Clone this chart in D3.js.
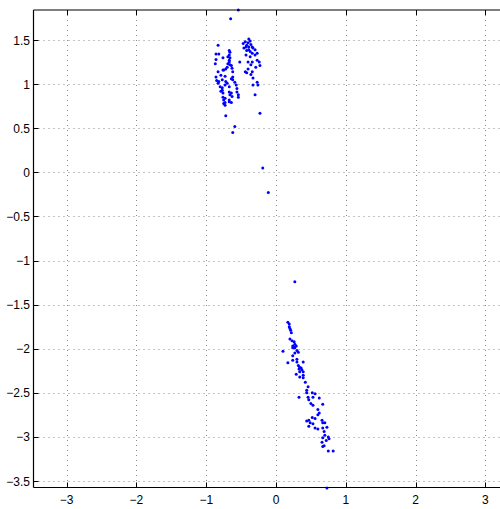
<!DOCTYPE html>
<html>
<head>
<meta charset="utf-8">
<script src="https://d3js.org/d3.v7.min.js"></script>
<style>
  body { margin: 0; background: #fff; }
  text { font-family: "Liberation Sans", Arial, sans-serif; font-size: 12px; fill: #000; }
</style>
</head>
<body>
<script>
// tick values
const xTicks = [-3, -2, -1, 0, 1, 2, 3];
const yTicks = [-3.5, -3, -2.5, -2, -1.5, -1, -0.5, 0, 0.5, 1, 1.5];

// upper-left group
const xsA = [-0.83, -0.86, -0.82, -0.86, -0.87, -0.83, -0.67, -0.67, -0.66, -0.67, -0.69, -0.70, -0.64, -0.76, -0.72, -0.76,
  -0.63, -0.62, -0.79, -0.73, -0.62, -0.77, -0.85, -0.83, -0.80, -0.62, -0.59, -0.57, -0.56, -0.56, -0.54, -0.54,
  -0.70, -0.73, -0.67, -0.77, -0.76, -0.76, -0.75, -0.75, -0.73, -0.67, -0.66, -0.67, -0.64, -0.72, -0.59, -0.62,
  -0.67, -0.66, -0.75, -0.64, -0.63, -0.79, -0.77, -0.52, -0.82, -0.72, -0.64, -0.86, -0.73, -0.73, -0.67, -0.69, -0.66];
const ysA = [1.44, 1.34, 1.34, 1.28, 1.23, 1.14, 1.38, 1.33, 1.30, 1.25, 1.23, 1.19, 1.21, 1.30, 1.17, 1.16,
  1.18, 1.14, 1.10, 1.09, 1.08, 1.05, 1.04, 1.01, 0.97, 1.05, 1.02, 0.99, 0.95, 0.91, 0.88, 0.85,
  1.01, 0.99, 0.97, 0.93, 0.90, 0.85, 0.82, 0.78, 0.76, 0.91, 0.88, 0.82, 0.79, 0.64, 0.52, 0.45,
  1.27, 1.22, 1.16, 0.90, 0.86, 0.92, 0.96, 1.25, 1.03, 1.03, 1.06, 1.08, 0.79, 0.84, 0.80, 1.31, 1.36];

// upper-right group
const xsB = [-0.44, -0.37, -0.42, -0.34, -0.33, -0.30, -0.39, -0.43, -0.37, -0.30, -0.27, -0.40, -0.34, -0.36, -0.27, -0.24,
  -0.40, -0.34, -0.42, -0.29, -0.23, -0.33, -0.33, -0.27, -0.26, -0.30, -0.23, -0.47, -0.40, -0.36, -0.43, -0.46,
  -0.39, -0.42, -0.34, -0.37, -0.39, -0.44, -0.36];
const ysB = [1.48, 1.49, 1.44, 1.42, 1.41, 1.39, 1.39, 1.33, 1.31, 1.33, 1.35, 1.25, 1.25, 1.22, 1.27, 1.25,
  1.17, 1.14, 1.13, 1.19, 1.21, 1.07, 0.99, 1.02, 0.99, 0.88, 0.67, 1.46, 1.47, 1.45, 1.42, 1.41,
  1.42, 1.38, 1.35, 1.37, 1.51, 1.14, 1.11];

// isolated points
const xsC = [-0.54, -0.65, -0.19, -0.11, 0.27];
const ysC = [1.84, 1.74, 0.05, -0.23, -1.24];

// lower group
const xsD = [0.17, 0.19, 0.20, 0.21, 0.20, 0.23, 0.26, 0.24, 0.26, 0.29, 0.27, 0.24, 0.30, 0.10, 0.27, 0.24,
  0.24, 0.30, 0.30, 0.32, 0.34, 0.36, 0.37, 0.33, 0.39, 0.34, 0.17, 0.39, 0.29, 0.39, 0.34, 0.39,
  0.42, 0.46, 0.44, 0.44, 0.52, 0.56, 0.33, 0.46, 0.47, 0.50, 0.53, 0.53, 0.62, 0.67, 0.60, 0.62,
  0.60, 0.52, 0.56, 0.47, 0.44, 0.49, 0.53, 0.66, 0.67, 0.70, 0.47, 0.56, 0.60, 0.67, 0.73, 0.69,
  0.70, 0.75, 0.76, 0.67, 0.72, 0.66, 0.69, 0.67, 0.75, 0.82, 0.73, 0.22, 0.19, 0.27, 0.32];
const ysD = [-1.70, -1.72, -1.77, -1.79, -1.89, -1.91, -1.92, -1.97, -1.98, -1.97, -1.99, -1.99, -2.02, -2.03, -2.05, -2.08,
  -2.13, -2.12, -2.15, -2.19, -2.21, -2.22, -2.24, -2.23, -2.26, -2.26, -2.16, -2.15, -2.29, -2.30, -2.32, -2.33,
  -2.38, -2.43, -2.47, -2.50, -2.50, -2.51, -2.55, -2.55, -2.58, -2.62, -2.64, -2.55, -2.56, -2.63, -2.69, -2.73,
  -2.75, -2.78, -2.79, -2.81, -2.82, -2.84, -2.85, -2.81, -2.84, -2.84, -2.88, -2.90, -2.91, -2.90, -2.89, -2.94,
  -2.98, -3.00, -3.02, -3.01, -3.04, -3.06, -3.10, -3.11, -3.16, -3.16, -3.58, -1.82, -1.75, -1.95, -2.04];

const xs = xsA.concat(xsB, xsC, xsD);
const ys = ysA.concat(ysB, ysC, ysD);
const points = xs.map((x, i) => ({x: x, y: ys[i]}));

const w = 500, h = 509;
const plotLeft = 33.5, plotTop = 10, plotRight = 530, plotBottom = 487.5;

const xScale = d3.scaleLinear().domain([-3, 3]).range([66.7, 485.3]);
const yScale = d3.scaleLinear().domain([1.5, -3.5]).range([40, 481]);

const svg = d3.select("body").append("svg")
  .attr("width", w)
  .attr("height", h);

// grid
const grid = svg.append("g")
  .attr("stroke", "#8a8a8a")
  .attr("stroke-width", 1)
  .attr("stroke-dasharray", "1,4");
grid.selectAll(".vg").data(xTicks).enter().append("line")
  .attr("x1", d => Math.round(xScale(d)) + 0.5)
  .attr("x2", d => Math.round(xScale(d)) + 0.5)
  .attr("y1", plotTop)
  .attr("y2", plotBottom);
grid.selectAll(".hg").data(yTicks).enter().append("line")
  .attr("y1", d => Math.round(yScale(d)) + 0.5)
  .attr("y2", d => Math.round(yScale(d)) + 0.5)
  .attr("x1", plotLeft)
  .attr("x2", plotRight);

// points
svg.append("g")
  .attr("fill", "#0000ff")
  .selectAll("circle")
  .data(points)
  .enter()
  .append("circle")
  .attr("cx", d => xScale(d.x))
  .attr("cy", d => yScale(d.y))
  .attr("r", 1.5);

// box
const box = svg.append("g").attr("stroke", "#000").attr("stroke-width", 1.2).attr("fill", "none");
box.append("line").attr("x1", plotLeft).attr("x2", plotRight).attr("y1", plotTop).attr("y2", plotTop);
box.append("line").attr("x1", plotLeft).attr("x2", plotRight).attr("y1", plotBottom).attr("y2", plotBottom);
box.append("line").attr("x1", plotLeft).attr("x2", plotLeft).attr("y1", plotTop).attr("y2", plotBottom);

// inward ticks on all visible sides
const tk = svg.append("g").attr("stroke", "#000").attr("stroke-width", 1);
xTicks.forEach(t => {
  const x = Math.round(xScale(t)) + 0.5;
  tk.append("line").attr("x1", x).attr("x2", x).attr("y1", plotBottom).attr("y2", plotBottom - 5);
  tk.append("line").attr("x1", x).attr("x2", x).attr("y1", plotTop).attr("y2", plotTop + 5);
});
yTicks.forEach(t => {
  const y = Math.round(yScale(t)) + 0.5;
  tk.append("line").attr("x1", plotLeft).attr("x2", plotLeft + 5).attr("y1", y).attr("y2", y);
});

// labels
const fmt = d3.format("");
svg.append("g").selectAll("text").data(xTicks).enter().append("text")
  .attr("x", d => xScale(d))
  .attr("y", 504)
  .attr("text-anchor", "middle")
  .text(d => fmt(d));
svg.append("g").selectAll("text").data(yTicks).enter().append("text")
  .attr("x", 30)
  .attr("y", d => yScale(d) + 4.5)
  .attr("text-anchor", "end")
  .text(d => fmt(d));
</script>
</body>
</html>
